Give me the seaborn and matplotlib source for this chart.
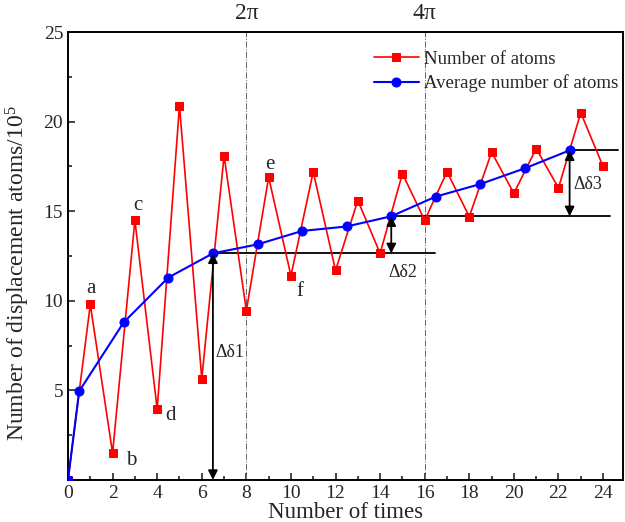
import matplotlib
matplotlib.use("Agg")
import matplotlib.pyplot as plt
import seaborn as sns
import pandas as pd

# Data
times = list(range(25))
atoms = [0.0, 9.8, 1.5, 14.5, 3.95, 20.9, 5.65, 18.1, 9.45, 16.9, 11.4, 17.2, 11.7,
         15.6, 12.65, 17.1, 14.5, 17.2, 14.7, 18.3, 16.0, 18.5, 16.3, 20.5, 17.5]
avg_times = [0, 0.5, 2.5, 4.5, 6.5, 8.5, 10.5, 12.5, 14.5, 16.5, 18.5, 20.5, 22.5]
avg_atoms = [0.0, 4.95, 8.8, 11.3, 12.65, 13.15, 13.9, 14.15, 14.72, 15.82, 16.52, 17.4, 18.4]
point_labels = ["a", "b", "c", "d", "e", "f"]
point_label_pos = [(1.05, 10.7), (2.85, 1.1), (3.15, 15.3), (4.6, 3.6), (9.05, 17.6), (10.4, 10.5)]
period_x = [8, 16]
period_labels = ["2\u03c0", "4\u03c0"]
xticks = list(range(0, 25, 2))
yticks = [5, 10, 15, 20, 25]

sns.set_theme(style="ticks")
plt.rcParams["font.family"] = ["Liberation Serif", "DejaVu Serif"]
plt.rcParams["mathtext.fontset"] = "custom"
plt.rcParams["mathtext.rm"] = "Liberation Serif"
plt.rcParams["mathtext.it"] = "Liberation Serif:italic"

fig = plt.figure(figsize=(6.25, 5.22), dpi=100)
ax = fig.add_axes([0.1088, 0.0805, 0.8882, 0.858])

df1 = pd.DataFrame({"x": times, "y": atoms})
df2 = pd.DataFrame({"x": avg_times, "y": avg_atoms})

for xv in period_x:
    ax.axvline(xv, color="#666666", lw=0.7, ls="-.", zorder=1)

sns.lineplot(data=df1, x="x", y="y", ax=ax, color="red", marker="s", markersize=5.8,
             markeredgecolor="red", lw=1.2, label="Number of atoms", zorder=3)
sns.lineplot(data=df2, x="x", y="y", ax=ax, color="blue", marker="o", markersize=6.5,
             markeredgecolor="blue", lw=1.5, label="Average number of atoms", zorder=4)

# horizontal reference lines
ax.plot([avg_times[4], 16.45], [avg_atoms[4]] * 2, color="black", lw=1.3, zorder=2)
ax.plot([avg_times[8], 24.3], [avg_atoms[8]] * 2, color="black", lw=1.3, zorder=2)
ax.plot([avg_times[12], 24.65], [avg_atoms[12]] * 2, color="black", lw=1.3, zorder=2)

# double arrows
arrow_kw = dict(arrowstyle="<|-|>", color="black", lw=1.3, mutation_scale=14,
                shrinkA=0, shrinkB=0)
ax.annotate("", xy=(avg_times[4], 0), xytext=(avg_times[4], avg_atoms[4]), arrowprops=arrow_kw, zorder=5)
ax.annotate("", xy=(avg_times[8], avg_atoms[4]), xytext=(avg_times[8], avg_atoms[8]), arrowprops=arrow_kw, zorder=5)
ax.annotate("", xy=(avg_times[12], avg_atoms[8]), xytext=(avg_times[12], avg_atoms[12]), arrowprops=arrow_kw, zorder=5)
ax.text(6.62, 7.1, "\u0394\u03b41", fontsize=13, va="center", ha="left")
ax.text(14.35, 11.6, "\u0394\u03b42", fontsize=13, va="center", ha="left")
ax.text(22.65, 16.5, "\u0394\u03b43", fontsize=13, va="center", ha="left")

for lab, (px, py) in zip(point_labels, point_label_pos):
    ax.text(px, py, lab, fontsize=15, ha="center", va="center")

for xv, lab in zip(period_x, period_labels):
    ax.text(xv, 25.45, lab, fontsize=17, ha="center", va="bottom", clip_on=False)

ax.set_xlim(0, 24.9)
ax.set_ylim(0, 25)
ax.set_xticks(xticks)
ax.set_xticks(range(0, 25), minor=True)
ax.set_yticks(yticks)
ax.set_yticks([2.5 * i for i in range(1, 10)], minor=True)
ax.tick_params(which="both", direction="in", top=False, right=False, labelsize=14, width=1.2)
ax.tick_params(which="major", length=5)
ax.tick_params(which="minor", length=3)
ax.set_xlabel("Number of times", fontsize=16.5, labelpad=0)
ax.set_ylabel("Number of displacement atoms/10$^{5}$", fontsize=17)
ax.yaxis.set_label_coords(-0.064, 0.462)
for s in ax.spines.values():
    s.set_linewidth(1.4)
    s.set_color("black")

leg = ax.legend(loc="upper right", frameon=False, fontsize=13.5, handlelength=2.35,
                handletextpad=0.3, borderaxespad=0.0, labelspacing=0.35,
                bbox_to_anchor=(1.005, 0.975))

fig.savefig("out.png", dpi=100)
